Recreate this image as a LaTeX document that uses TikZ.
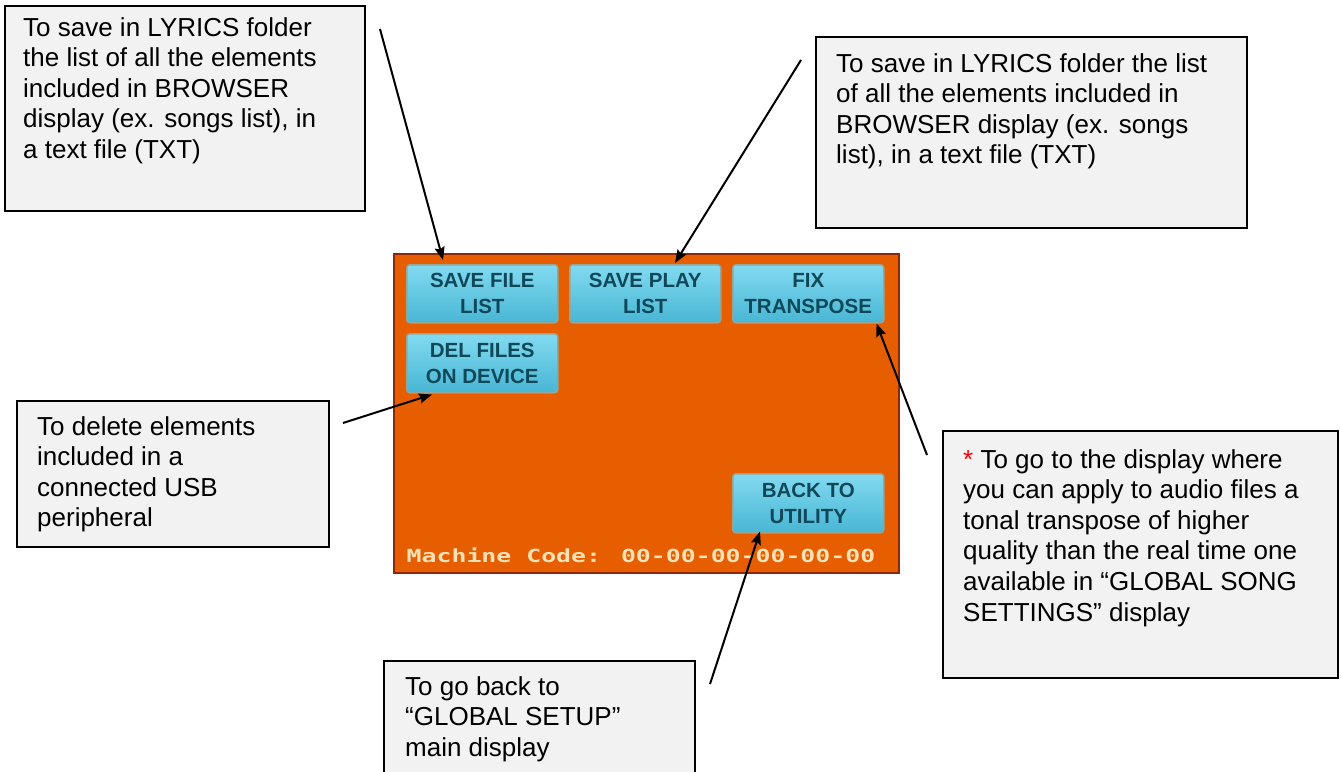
\documentclass[tikz,border=0pt]{standalone}
\usepackage{fontspec}
\usepackage{graphicx}
\setmainfont{Liberation Sans}
\newfontfamily\lcdfont{DejaVu Sans Mono}
\usetikzlibrary{arrows.meta}
\definecolor{boxgray}{RGB}{242,242,242}
\definecolor{scrorange}{RGB}{230,94,0}
\definecolor{scrborder}{RGB}{140,40,10}
\definecolor{btntop}{RGB}{130,218,240}
\definecolor{btnbot}{RGB}{72,182,212}
\definecolor{btnedge}{RGB}{150,165,150}
\definecolor{btntext}{RGB}{15,72,88}
\definecolor{lcdtext}{RGB}{250,226,182}
\tikzset{
  callout/.style={draw=black, fill=boxgray, line width=1.5pt, anchor=north west, inner sep=0pt},
  calltext/.style={anchor=north west, inner sep=0pt, align=left,
    font=\fontsize{26}{30.6}\selectfont, text=black},
  btn/.style={draw=btnedge, line width=1.5pt, rounded corners=3pt,
    top color=btntop, bottom color=btnbot, anchor=north west,
    minimum width=151pt, minimum height=58pt, inner sep=0pt, align=center,
    font=\fontsize{20.5}{26}\selectfont\bfseries, text=btntext},
  pointer/.style={line width=2pt, -{Stealth[length=13pt,width=10pt,inset=2pt]}}
}
\begin{document}
\begin{tikzpicture}[x=1pt,y=-1pt]
\clip (0,0) rectangle (1341,771);
\fill[white] (0,0) rectangle (1341,771);

% screen
\node[draw=scrborder, fill=scrorange, line width=1.5pt, anchor=north west,
  minimum width=505pt, minimum height=319pt, inner sep=0pt] (screen) at (393,253) {};
\node[btn] (sfl) at (406,264) {SAVE FILE\\LIST};
\node[btn] (spl) at (569,264) {SAVE PLAY\\LIST};
\node[btn] (fix) at (732,264) {FIX\\TRANSPOSE};
\node[btn, minimum height=59pt] (del) at (406,333) {DEL FILES\\ON DEVICE};
\node[btn, minimum height=59pt] (back) at (732,473) {BACK TO\\UTILITY};
\node[anchor=base, inner sep=0pt, text=lcdtext] (code) at (641,562)
  {\scalebox{1.38}[1]{\lcdfont\bfseries\fontsize{18}{18}\selectfont Machine Code: 00-00-00-00-00-00}};

% callout boxes
\node[callout, minimum width=360pt, minimum height=205pt] (c1) at (4,5) {};
\node[calltext] (t1) at ([shift={(19,12)}]c1.north west)
  {To save in LYRICS folder\\the list of all the elements\\included in BROWSER\\display (ex. songs list), in\\a text file (TXT)};

\node[callout, minimum width=431pt, minimum height=191pt] (c2) at (815,36) {};
\node[calltext] (t2) at ([shift={(21,17)}]c2.north west)
  {To save in LYRICS folder the list\\of all the elements included in\\BROWSER display (ex. songs\\list), in a text file (TXT)};

\node[callout, minimum width=312pt, minimum height=146pt] (c3) at (16,400) {};
\node[calltext] (t3) at ([shift={(21,16)}]c3.north west)
  {To delete elements\\included in a\\connected USB\\peripheral};

\node[callout, minimum width=395pt, minimum height=247pt] (c4) at (942,430) {};
\node[calltext] (t4) at ([shift={(21,19)}]c4.north west)
  {\textcolor{red}{*} To go to the display where\\you can apply to audio files a\\tonal transpose of higher\\quality than the real time one\\available in “GLOBAL SONG\\SETTINGS” display};

\node[callout, minimum width=311pt, minimum height=140pt] (c5) at (383,660) {};
\node[calltext] (t5) at ([shift={(22,16)}]c5.north west)
  {To go back to\\“GLOBAL SETUP”\\main display};

% connector start points
\coordinate (a1) at (380,29);
\coordinate (a2) at (801,60);
\coordinate (a3) at (343,423);
\coordinate (a4) at (927,455);
\coordinate (a5) at (710,684);

\draw[pointer] (a1) -- ([shift={(37,-4)}]sfl.north west);
\draw[pointer] (a2) -- ([shift={(106,-1)}]spl.north west);
\draw[pointer] (a3) -- ([shift={(26,1)}]del.south west);
\draw[pointer] (a4) -- ([shift={(-8,0)}]fix.south east);
\draw[pointer] (a5) -- ([shift={(28,-2)}]back.south west);
\end{tikzpicture}
\end{document}
